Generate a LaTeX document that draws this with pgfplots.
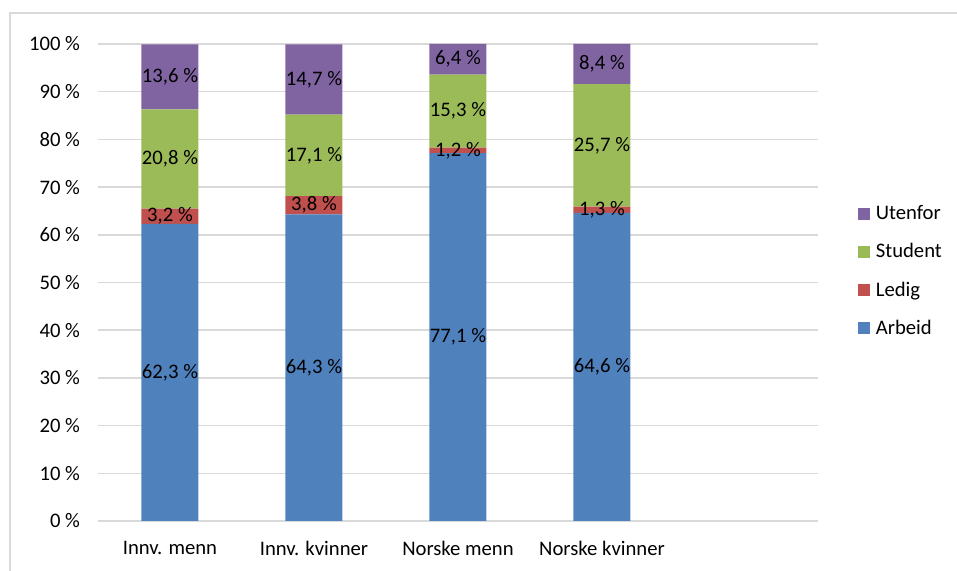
\documentclass[border=0pt]{standalone}
\usepackage{pgfplots}
\pgfplotsset{compat=1.18}
\usepackage{fontspec}
\setmainfont{Carlito}
\definecolor{cArb}{HTML}{4F81BD}
\definecolor{cLed}{HTML}{C0504D}
\definecolor{cStu}{HTML}{9BBB59}
\definecolor{cUte}{HTML}{8064A2}
\definecolor{gridc}{HTML}{D9D9D9}
\begin{document}
\begin{tikzpicture}[font=\fontsize{15.5}{18}\selectfont]
\path[use as bounding box] (-73.5pt,-37.5pt) rectangle (644.25pt,390.75pt);
\draw[gridc, line width=1.2pt] (-66pt,-37.5pt) -- (-66pt,381pt) -- (644.25pt,381pt);
\begin{axis}[
  at={(0,0)}, anchor=south west, scale only axis,
  width=540pt, height=357.75pt,
  ybar stacked, bar width=42.75pt,
  xmin=-0.5, xmax=4.5, ymin=0, ymax=100,
  xtick={0,1,2,3},
  xticklabels={Innv. menn, Innv. kvinner, Norske menn, Norske kvinner},
  ytick={0,10,...,100},
  yticklabel={\pgfmathprintnumber{\tick}~\%},
  /pgf/number format/assume math mode=true,
  xticklabel style={yshift=-11.5pt},
  yticklabel style={xshift=-10pt},
  ymajorgrids, grid style={gridc, line width=1.1pt},
  axis line style={draw=none},
  major tick length=0pt,
  clip=false,
  nodes near coords={\pgfmathprintnumber[fixed,fixed zerofill,precision=1,use comma]{\pgfplotspointmeta}~\%},
  nodes near coords align=center,
  every node near coord/.append style={anchor=center, text=black},
  reverse legend,
  legend image code/.code={\fill[#1] (0pt,-4.5pt) rectangle (9pt,4.5pt);},
  legend cell align=left,
  legend style={at={(1.055,0.524)}, anchor=west, draw=none, fill=none, inner sep=0pt, row sep=12.5pt, nodes={inner ysep=2pt, inner xsep=4.5pt}},
]
\addplot[fill=cArb, draw=none] coordinates {(0,62.3) (1,64.3) (2,77.1) (3,64.6)};
\addplot[fill=cLed, draw=none] coordinates {(0,3.2) (1,3.8) (2,1.2) (3,1.3)};
\addplot[fill=cStu, draw=none] coordinates {(0,20.8) (1,17.1) (2,15.3) (3,25.7)};
\addplot[fill=cUte, draw=none] coordinates {(0,13.6) (1,14.7) (2,6.4) (3,8.4)};
\legend{Arbeid, Ledig, Student, Utenfor}
\end{axis}
\end{tikzpicture}
\end{document}
